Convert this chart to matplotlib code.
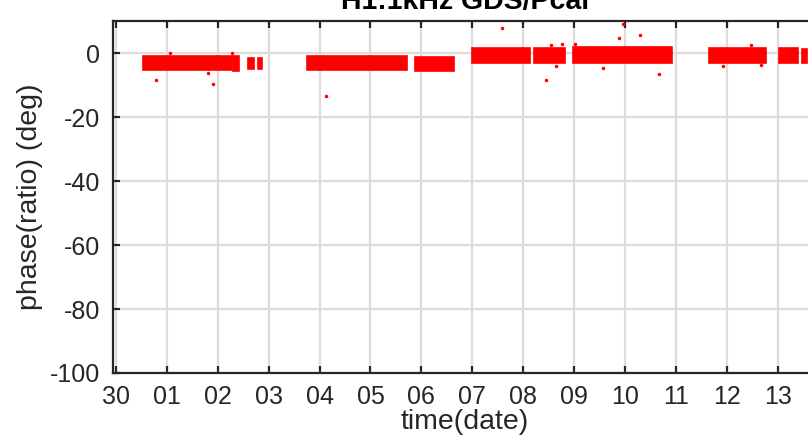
import matplotlib
matplotlib.use("Agg")
import matplotlib.pyplot as plt

# time axis: days after 30 Sep (00:00)
tick_days = list(range(14))
tick_labels = ["30", "01", "02", "03", "04", "05", "06", "07",
               "08", "09", "10", "11", "12", "13"]

# dense measurement stretches: start/end day, lower/upper phase of the band (deg)
seg_start = [0.53, 2.00, 2.29, 2.60, 2.79, 3.75, 5.88, 6.99, 8.22, 8.98, 11.66, 13.02, 13.48]
seg_end   = [1.98, 2.28, 2.42, 2.71, 2.86, 5.72, 6.65, 8.14, 8.83, 10.92, 12.78, 13.41, 13.58]
seg_low   = [-5.2, -5.2, -5.5, -5.0, -5.0, -5.2, -5.5, -2.9, -2.9, -2.9, -2.9, -2.9, -2.9]
seg_high  = [-1.0, -1.0, -1.0, -1.5, -1.5, -1.0, -1.2, 1.7, 1.7, 1.9, 1.7, 1.5, 1.2]

# isolated points away from the bands
out_day   = [0.79, 1.80, 1.91, 4.13, 2.27, 1.07, 7.59, 8.45, 8.65, 9.97,
             9.89, 10.30, 10.67, 9.57, 9.01, 8.77, 8.55, 11.92, 12.68, 12.48]
out_phase = [-8.3, -6.25, -9.7, -13.25, 0.2, 0.0, 7.8, -8.3, -4.0, 9.1,
             4.7, 5.6, -6.5, -4.7, 2.9, 2.8, 2.7, -4.0, -3.75, 2.6]

plt.rcParams["font.family"] = ["Liberation Sans", "DejaVu Sans"]
plt.rcParams["axes.unicode_minus"] = False
dark = "#262626"

fig = plt.figure(figsize=(8.08, 4.40), dpi=100)
ax = fig.add_axes([0.1395, 0.1523, 0.872, 0.7993])

widths = [e - s for s, e in zip(seg_start, seg_end)]
heights = [h - l for l, h in zip(seg_low, seg_high)]
ax.bar(seg_start, heights, width=widths, bottom=seg_low, align="edge",
       color="red", edgecolor="red", linewidth=1.2, zorder=3)
ax.plot(out_day, out_phase, ".", color="red", ms=3, zorder=3)

ax.set_xlim(-0.065, 13.78)
ax.set_ylim(-100, 10)
ax.set_xticks(tick_days)
ax.set_xticklabels(tick_labels)
ax.set_yticks([-100, -80, -60, -40, -20, 0])

ax.set_axisbelow(True)
ax.grid(True, color="#dcdcdc", linewidth=1.6)
for sp in ax.spines.values():
    sp.set_color(dark)
    sp.set_linewidth(1.6)
ax.tick_params(direction="in", top=True, right=True, length=5, width=1.6,
               color=dark, labelcolor=dark, labelsize=18, pad=9)

ax.set_xlabel("time(date)", fontsize=20.5, color=dark, labelpad=0)
ax.set_ylabel("phase(ratio) (deg)", fontsize=20.5, color=dark, labelpad=5)
ax.set_title("H1:1kHz GDS/Pcal", fontsize=20.5, fontweight="bold", pad=8.5)

fig.savefig("out.png", dpi=100)
